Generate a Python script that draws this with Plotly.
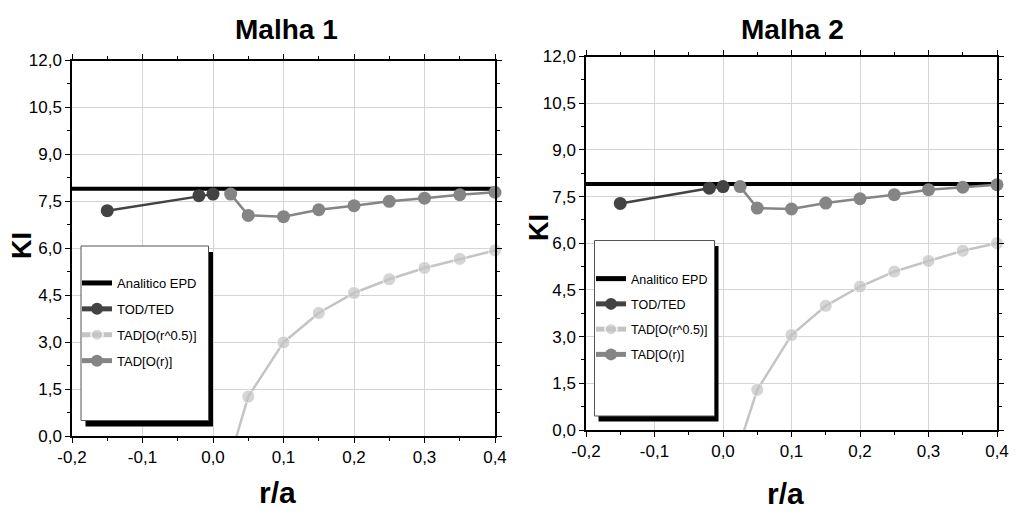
import plotly.graph_objects as go

# r/a positions of the computed points
r_tod = [-0.15, -0.02, 0.0]
r_tad = [0.025, 0.05, 0.1, 0.15, 0.2, 0.25, 0.3, 0.35, 0.4]
r_ref = [-0.2, 0.4]

# Malha 1
ki_epd_m1 = [7.9, 7.9]
ki_tod_m1 = [7.20, 7.68, 7.73]
ki_tad_sqrt_m1 = [-0.65, 1.26, 2.99, 3.93, 4.57, 5.01, 5.37, 5.66, 5.93]
ki_tad_lin_m1 = [7.73, 7.05, 7.01, 7.23, 7.36, 7.50, 7.60, 7.71, 7.79]

# Malha 2
ki_epd_m2 = [7.9, 7.9]
ki_tod_m2 = [7.28, 7.77, 7.82]
ki_tad_sqrt_m2 = [-0.40, 1.29, 3.05, 3.99, 4.61, 5.09, 5.43, 5.76, 6.00]
ki_tad_lin_m2 = [7.82, 7.13, 7.10, 7.29, 7.43, 7.56, 7.72, 7.80, 7.88]

series_names = ["Analitico EPD", "TOD/TED", "TAD[O(r^0.5)]", "TAD[O(r)]"]
panel_titles = ["Malha 1", "Malha 2"]

x_tick_vals = [-0.2, -0.1, 0.0, 0.1, 0.2, 0.3, 0.4]
x_tick_text = ["-0,2", "-0,1", "0,0", "0,1", "0,2", "0,3", "0,4"]
y_tick_vals = [0.0, 1.5, 3.0, 4.5, 6.0, 7.5, 9.0, 10.5, 12.0]
y_tick_text = ["0,0", "1,5", "3,0", "4,5", "6,0", "7,5", "9,0", "10,5", "12,0"]

W, H = 1016, 515
FONT = "Liberation Sans, Arial, sans-serif"

C_EPD = "#000000"
C_TOD = "#434343"
C_SQRT = "#c4c4c4"
C_LIN = "#858585"


def px_x(p):
    return p / W


def px_y(p):
    return 1 - p / H


fig = go.Figure()

panels = [
    dict(key="m1", xa="x", ya="y", leg="legend",
         epd=ki_epd_m1, tod=ki_tod_m1, sq=ki_tad_sqrt_m1, lin=ki_tad_lin_m1),
    dict(key="m2", xa="x2", ya="y2", leg="legend2",
         epd=ki_epd_m2, tod=ki_tod_m2, sq=ki_tad_sqrt_m2, lin=ki_tad_lin_m2),
]

for p in panels:
    k = p["key"]
    fig.add_trace(go.Scatter(
        x=r_ref, y=p["epd"], mode="lines", name=series_names[0],
        line=dict(color=C_EPD, width=4), xaxis=p["xa"], yaxis=p["ya"],
        legend=p["leg"], legendgroup=k + "_epd"))
    fig.add_trace(go.Scatter(
        x=r_tod, y=p["tod"], mode="lines+markers", name=series_names[1],
        line=dict(color=C_TOD, width=2.5),
        marker=dict(color=C_TOD, size=13, symbol="circle"),
        xaxis=p["xa"], yaxis=p["ya"], legend=p["leg"], cliponaxis=False,
        legendgroup=k + "_tod"))
    # points below the axis range keep their line segment but no marker
    sq_sizes = [13 if v >= 0 else 0 for v in p["sq"]]
    fig.add_trace(go.Scatter(
        x=r_tad, y=p["sq"], mode="lines+markers", name=series_names[2],
        line=dict(color=C_SQRT, width=2.5),
        marker=dict(color=C_SQRT, size=sq_sizes, symbol="circle"),
        xaxis=p["xa"], yaxis=p["ya"], legend=p["leg"], cliponaxis=False,
        legendgroup=k + "_sq"))
    fig.add_trace(go.Scatter(
        x=r_tad, y=p["lin"], mode="lines+markers", name=series_names[3],
        line=dict(color=C_LIN, width=2.5),
        marker=dict(color=C_LIN, size=13, symbol="circle"),
        xaxis=p["xa"], yaxis=p["ya"], legend=p["leg"], cliponaxis=False,
        legendgroup=k + "_lin"))

tick_font = dict(family=FONT, size=17, color="#000000")

common_x = dict(
    range=[-0.2, 0.4], tickvals=x_tick_vals, ticktext=x_tick_text,
    showgrid=True, gridcolor="#d4d4d4", gridwidth=1, zeroline=False,
    showline=True, linecolor="#000000", linewidth=1.5, mirror="ticks",
    ticks="outside", ticklen=5, tickcolor="#000000", tickfont=tick_font,
    minor=dict(dtick=0.05, tick0=0, ticks="outside", ticklen=3,
               tickcolor="#000000", showgrid=False),
    fixedrange=True,
)
common_y = dict(
    range=[0, 12], tickvals=y_tick_vals, ticktext=y_tick_text,
    showgrid=True, gridcolor="#d4d4d4", gridwidth=1, zeroline=False,
    showline=True, linecolor="#000000", linewidth=1.5, mirror="ticks",
    ticks="outside", ticklen=5, tickcolor="#000000", tickfont=tick_font,
    minor=dict(dtick=0.75, tick0=0, ticks="outside", ticklen=3,
               tickcolor="#000000", showgrid=False),
    fixedrange=True,
)

fig.update_layout(
    xaxis=dict(common_x, domain=[px_x(72), px_x(495)], anchor="y"),
    yaxis=dict(common_y, domain=[px_y(436), px_y(60.5)], anchor="x"),
    xaxis2=dict(common_x, domain=[px_x(586), px_x(997)], anchor="y2"),
    yaxis2=dict(common_y, domain=[px_y(430), px_y(56.5)], anchor="x2"),
)

legend_style = dict(
    bgcolor="rgba(0,0,0,0)", borderwidth=0,
    xanchor="left", yanchor="top", tracegroupgap=6,
    itemsizing="constant",
)
fig.update_layout(
    legend=dict(legend_style, x=px_x(77), y=px_y(268),
                font=dict(family=FONT, size=13, color="#000000")),
    legend2=dict(legend_style, x=px_x(591), y=px_y(264),
                 font=dict(family=FONT, size=12.5, color="#000000")),
)

# legend frames with drop shadow
shapes = []
for (x0, y0, x1, y1, dx, dy) in [(81, 246, 208.5, 420.5, 4.5, 6),
                                  (594.5, 240.5, 714.5, 416, 4, 5.5)]:
    shapes.append(dict(type="rect", xref="paper", yref="paper", layer="above",
                       x0=px_x(x0 + dx), x1=px_x(x1 + dx),
                       y0=px_y(y1 + dy), y1=px_y(y0 + dy),
                       fillcolor="#000000", line=dict(width=0)))
    shapes.append(dict(type="rect", xref="paper", yref="paper", layer="above",
                       x0=px_x(x0), x1=px_x(x1), y0=px_y(y1), y1=px_y(y0),
                       fillcolor="#ffffff", line=dict(color="#555555", width=1)))
fig.update_layout(shapes=shapes)

title_font = dict(family=FONT, size=28, color="#000000", weight="bold")
ki_font = dict(family=FONT, size=27, color="#000000", weight="bold")
ra_font = dict(family=FONT, size=30, color="#000000", weight="bold")
annotations = [
    dict(text=panel_titles[0], x=px_x(286), y=px_y(30), font=title_font),
    dict(text=panel_titles[1], x=px_x(792), y=px_y(30), font=title_font),
    dict(text="KI", x=px_x(22), y=px_y(246), textangle=-90, font=ki_font),
    dict(text="KI", x=px_x(539), y=px_y(228), textangle=-90, font=ki_font),
    dict(text="r/a", x=px_x(277), y=px_y(492), font=ra_font),
    dict(text="r/a", x=px_x(785), y=px_y(493), font=ra_font),
]
for a in annotations:
    a.update(xref="paper", yref="paper", showarrow=False,
             xanchor="center", yanchor="middle")
fig.update_layout(annotations=annotations)

fig.update_layout(
    width=W, height=H,
    margin=dict(l=0, r=0, t=0, b=0, autoexpand=False),
    paper_bgcolor="#ffffff", plot_bgcolor="#ffffff",
    showlegend=True,
)

fig.write_html("out.html", config={"displayModeBar": False})
